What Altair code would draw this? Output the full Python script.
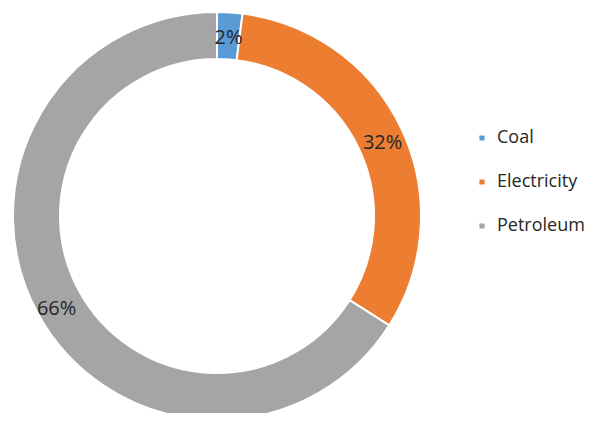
import altair as alt
import pandas as pd

categories = ["Coal", "Electricity", "Petroleum"]
values = [2, 32, 66]
labels = ["2%", "32%", "66%"]
colors = ["#5B9BD5", "#ED7D31", "#A5A5A5"]

df = pd.DataFrame({"cat": categories, "val": values, "lbl": labels, "ord": [0, 1, 2]})

cx, cy = 209, 208

base = alt.Chart(df).encode(
    theta=alt.Theta("val:Q", stack=True),
    order=alt.Order("ord:Q"),
)

arcs = base.mark_arc(outerRadius=204, innerRadius=157, stroke="white", strokeWidth=2).encode(
    x=alt.value(cx),
    y=alt.value(cy),
    color=alt.Color(
        "cat:N",
        scale=alt.Scale(domain=categories, range=colors),
        legend=alt.Legend(
            title=None,
            orient="none",
            legendX=465,
            legendY=121,
            symbolType="square",
            symbolSize=45,
            labelFontSize=18,
            labelFont="Open Sans",
            labelColor="#262626",
            rowPadding=26,
            labelOffset=6,
        ),
    ),
)

texts = base.mark_text(radius=183, dy=5, fontSize=20, font="Open Sans", color="#262626").encode(
    x=alt.value(cx),
    y=alt.value(cy),
    text="lbl:N",
)

chart = alt.layer(arcs, texts).properties(
    width=585, height=405, padding=0, autosize=alt.AutoSizeParams(type="none")
).configure_view(stroke=None)

chart.save("out.html", embed_options={"renderer": "svg", "actions": False})
